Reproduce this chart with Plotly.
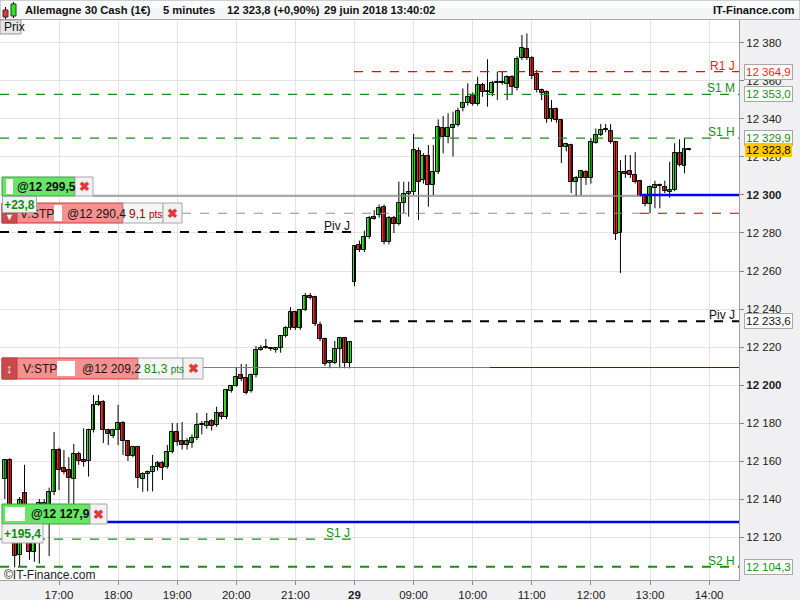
import plotly.graph_objects as go

# ---------------- data (5-minute candles, index 0 = 17:00 on 28/06, index 60 = 08:00 on 29/06) ----------------
first_candle = -11
opens = [12150.5, 12160.5, 12133, 12110.5, 12143, 12131, 12112, 12130, 12138, 12136.5, 12143.7,
         12165.8, 12156.3, 12155.3, 12150.5, 12163.7, 12160.5, 12160, 12176.3, 12189.5, 12191.1,
         12176.3, 12173.2, 12176.3, 12180, 12170.5, 12162.6, 12167.4, 12150.5, 12153.2, 12154.2,
         12156.8, 12158.9, 12156.8, 12164.7, 12175.3, 12170.5, 12168.4, 12169.5, 12172.1, 12178.9,
         12178.4, 12181.1, 12178.9, 12185.3, 12183.2, 12196.8, 12199.5, 12205.3, 12203.7, 12196.8,
         12205.3, 12218.4, 12219.5, 12219.5, 12218.4, 12219.5, 12225.8, 12230, 12238.4, 12230,
         12239.5, 12246.8, 12246.3, 12231.6, 12224.2, 12211.6, 12211.6, 12218.9, 12224.7, 12211.6,
         12254.2, 12273.7, 12271.1, 12277.9, 12288.2, 12289.5, 12293.7, 12275.3, 12287.9, 12284.7,
         12295.8, 12300.5, 12301.6, 12323.2, 12307.9, 12320.5, 12305.3, 12312.1, 12335.3, 12330.5,
         12335.3, 12336.8, 12345.6, 12348.4, 12352.6, 12347.9, 12357.9, 12354.2, 12353.7, 12358.9,
         12359.1, 12358.4, 12362.1, 12356.3, 12372.1, 12376.8, 12372.1, 12363.7, 12355.3, 12354.2,
         12340, 12345.3, 12339.5, 12325.3, 12326.3, 12306.8, 12308.9, 12312.1, 12308.9, 12327.4,
         12331.6, 12334.2, 12333.7, 12327.9, 12280, 12312.1, 12312.6, 12310.5, 12307.4, 12299.5,
         12295.3, 12303.7, 12304.7, 12304.2, 12301.6, 12302.6, 12322.1, 12315.3, 12323.8]
highs = [12161, 12161.5, 12135, 12141, 12158, 12133, 12132, 12140, 12140, 12146, 12175.3,
         12167, 12165.8, 12162, 12169, 12165, 12177.2, 12177, 12194.7, 12194.7, 12192,
         12177, 12177, 12189.5, 12181, 12171, 12168, 12168, 12154, 12155, 12163.2,
         12160, 12160, 12168.4, 12180, 12180, 12180.5, 12172, 12174, 12185.3, 12181,
         12185.3, 12182, 12188.6, 12186, 12198, 12200, 12209.5, 12211.1, 12211, 12206,
         12220.5, 12221, 12224.2, 12220, 12220, 12226, 12231, 12241, 12239, 12240,
         12248.4, 12248.4, 12247, 12233.3, 12225, 12213, 12223.2, 12225, 12225, 12223,
         12273.7, 12276, 12281.2, 12289, 12292, 12295, 12295, 12289, 12289, 12307,
         12307, 12307, 12332.1, 12325, 12322, 12326.3, 12326.3, 12339.8, 12341.6, 12343,
         12343.9, 12346, 12356.1, 12358.8, 12354, 12362.3, 12359, 12371.4, 12360, 12364.9,
         12364.9, 12363, 12363, 12373, 12384.2, 12385, 12373, 12365.8, 12356, 12355,
         12350, 12346, 12340, 12327.5, 12327, 12310, 12313, 12313, 12330, 12335,
         12337.4, 12337.4, 12337.4, 12328.5, 12318.4, 12321, 12321, 12322.6, 12308, 12300,
         12305, 12307.5, 12306, 12307.5, 12317.5, 12327.2, 12329.3, 12330, 12324.2]
lows = [12140, 12133, 12104, 12104.2, 12128, 12108, 12107, 12106, 12130, 12110, 12142,
        12144.7, 12153, 12137.7, 12137, 12158, 12157, 12151.8, 12175, 12189, 12169.5,
        12168.4, 12172, 12168.4, 12163.2, 12160, 12162, 12145.8, 12143.8, 12144, 12144,
        12155, 12150, 12156, 12164, 12168, 12166, 12166, 12167, 12171, 12174,
        12177, 12176, 12178, 12182, 12182, 12196, 12199, 12202, 12195, 12196,
        12204, 12218, 12219, 12218, 12217, 12217, 12225, 12229, 12229, 12229,
        12239, 12245, 12231, 12223, 12210, 12208.8, 12211, 12208.8, 12208.8, 12208.8,
        12252, 12270, 12270, 12277, 12287, 12288, 12274, 12274, 12280, 12284,
        12290.4, 12288.6, 12300, 12286.8, 12306, 12293.9, 12300, 12311, 12321.9, 12327.2,
        12320.2, 12336, 12344, 12347, 12347, 12347, 12351.7, 12346.5, 12352, 12350,
        12358, 12350, 12353.2, 12355, 12371, 12371, 12361, 12354, 12350, 12338,
        12338.6, 12338, 12316.8, 12323, 12301, 12299.1, 12300, 12305.3, 12306, 12327,
        12331, 12333, 12327, 12276.3, 12258.9, 12309, 12309, 12306, 12299, 12294,
        12290.4, 12293, 12293, 12301, 12298.6, 12302, 12315, 12311.4, 12323.4]
closes = [12160.5, 12135, 12110, 12139.5, 12131, 12112, 12130, 12138, 12136.5, 12143.7, 12165.8,
          12155.3, 12154.2, 12151.1, 12163.7, 12160, 12159.5, 12176.3, 12189.5, 12191.1, 12176.3,
          12174.2, 12176.3, 12180, 12170.5, 12162.6, 12167.4, 12151.1, 12153.2, 12154.2, 12156.8,
          12158.9, 12156.3, 12164.7, 12175.3, 12170, 12168.4, 12170.5, 12172.1, 12178.9, 12179.5,
          12180.5, 12178.4, 12185.3, 12183.2, 12197.4, 12199.5, 12204.2, 12203.2, 12195.8, 12205.3,
          12218.4, 12219.5, 12219.7, 12218.9, 12219.5, 12225.8, 12230, 12238.4, 12230, 12239.5,
          12246.8, 12245.8, 12232.1, 12224.2, 12211.1, 12212.6, 12218.9, 12224.7, 12211.6, 12222.6,
          12273.2, 12271.1, 12277.9, 12287.9, 12287.6, 12293.2, 12275.3, 12287.9, 12284.7, 12295.8,
          12300.5, 12301.6, 12323.7, 12306.8, 12320.5, 12305.3, 12312.1, 12335.8, 12330.5, 12335.3,
          12336.8, 12344.2, 12348.6, 12351.6, 12347.9, 12357.9, 12354.2, 12354.2, 12358.9, 12359.5,
          12359.1, 12362.1, 12356.8, 12371.6, 12377.4, 12372.1, 12362.6, 12355.3, 12353.7, 12340,
          12345.3, 12339.5, 12325.3, 12326.8, 12306.8, 12308.9, 12312.6, 12308.9, 12327.9, 12331.6,
          12334.2, 12334.2, 12327.9, 12279.5, 12312.1, 12311, 12310.5, 12306.8, 12299.5, 12295.3,
          12304.2, 12305.3, 12304.9, 12302.1, 12302.6, 12322.1, 12315.8, 12324.2, 12323.8]

time_tick_index = [0, 12, 24, 36, 48, 60, 72, 84, 96, 108, 120, 132]
time_tick_text = ["17:00", "18:00", "19:00", "20:00", "21:00", "<b>29</b>",
                  "09:00", "10:00", "11:00", "12:00", "13:00", "14:00"]
price_ticks = [12120, 12140, 12160, 12180, 12200, 12220, 12240, 12260, 12280, 12300,
               12320, 12340, 12360, 12380]
price_tick_text = ["12 120", "12 140", "12 160", "12 180", "<b>12 200</b>", "12 220", "12 240",
                   "12 260", "12 280", "<b>12 300</b>", "12 320", "12 340", "12 360", "12 380"]

# pivot levels (today, drawn across the day) and previous-day levels
level_names = ["R1 J", "S1 M", "S1 H", "Piv J", "S2 H"]
level_values = [12364.9, 12353.0, 12329.9, 12233.6, 12104.3]
level_labels = ["12 364,9", "12 353,0", "12 329,9", "12 233,6", "12 104,3"]
prev_names = ["Piv J", "S1 J"]
prev_values = [12280.5, 12118.9]
order_prices = [12299.5, 12290.4, 12209.2, 12127.9]
last_price = 12323.8
last_price_label = "12 323,8"

# ---------------- geometry helpers (pixel -> paper) ----------------
PL, PR, PT, PB = 0, 739, 20, 580
def px(x):
    return (x - PL) / (PR - PL)
def py(y):
    return (PB - y) / (PB - PT)

FONT = "Liberation Sans, Arial, sans-serif"
GREEN_TXT = "#138a13"

n = len(opens)
idx = list(range(first_candle, first_candle + n))

fig = go.Figure()

# wicks
wx, wy = [], []
for i, h, l in zip(idx, highs, lows):
    wx += [i, i, None]
    wy += [l, h, None]
fig.add_trace(go.Scatter(x=wx, y=wy, mode="lines", line=dict(color="black", width=1),
                         hoverinfo="skip", showlegend=False))

groups = {"up": ([], [], []), "down": ([], [], []), "flat": ([], [], [])}
for i, o, c in zip(idx, opens, closes):
    if abs(c - o) < 0.35:
        g = "flat"
    elif c > o:
        g = "up"
    else:
        g = "down"
    groups[g][0].append(i)
    groups[g][1].append(min(o, c))
    groups[g][2].append(max(abs(c - o), 0.6))
colors = {"up": "#2ee61e", "down": "#f02828", "flat": "black"}
for g, (xs, bs, hs) in groups.items():
    fig.add_trace(go.Bar(x=xs, y=hs, base=bs, width=0.8, marker=dict(color=colors[g],
                         line=dict(color="black", width=1)), hoverinfo="skip", showlegend=False))

shapes = []
ann = []

def hline(price, x0, x1, color, width=1, dash="solid"):
    shapes.append(dict(type="line", xref="paper", yref="y", x0=px(x0), x1=px(x1), y0=price, y1=price,
                       line=dict(color=color, width=width, dash=dash), layer="above"))

def rect(x0, y0, x1, y1, fill, line=None, lw=1):
    shapes.append(dict(type="rect", xref="paper", yref="paper", x0=px(x0), x1=px(x1), y0=py(y1), y1=py(y0),
                       fillcolor=fill, line=dict(color=line if line else fill, width=lw if line else 0),
                       layer="above"))

def text(x, y, s, size=12, color="#111", anchor="left", yanchor="middle", **kw):
    ann.append(dict(x=px(x), y=py(y), xref="paper", yref="paper", text=s, showarrow=False,
                    xanchor=anchor, yanchor=yanchor, font=dict(size=size, color=color, family=FONT), **kw))

# ---------------- horizontal levels ----------------
hline(level_values[0], 354, 739, "#ff0000", 1.2, "dash")
hline(level_values[1], 0, 739, "#139013", 1.2, "dash")
hline(level_values[2], 0, 739, "#139013", 1.2, "dash")
hline(order_prices[0], 93, 640, "#8c8c8c", 1.5)
hline(12300, 640, 739, "#0000ff", 2.5)
hline(order_prices[1], 182, 640, "#909090", 1.2, "dash")
hline(order_prices[1], 640, 739, "#c00000", 1.2, "dash")
hline(prev_values[0], 0, 354, "black", 2, "dash")
hline(level_values[3], 354, 739, "black", 2, "dash")
hline(order_prices[2], 203, 490, "#7a7a7a", 1)
hline(order_prices[2], 490, 739, "#7a0000", 1)
hline(order_prices[3], 107, 739, "#0000ee", 2.5)
hline(prev_values[1], 0, 354, "#139013", 1.2, "dash")
hline(level_values[4], 0, 739, "#139013", 2, "dash")

# level names
lvl_colors = ["#ff1a1a", "#139013", "#139013", "#111111", "#139013"]
for name, v, col in zip(level_names, level_values, lvl_colors):
    ann.append(dict(x=px(737), y=v, xref="paper", yref="y", text=name, showarrow=False, xanchor="right",
                    yanchor="bottom", yshift=-3, font=dict(size=12, color=col, family=FONT)))
for name, v, col in zip(prev_names, prev_values, ["#111111", "#139013"]):
    ann.append(dict(x=px(352), y=v, xref="paper", yref="y", text=name, showarrow=False, xanchor="right",
                    yanchor="bottom", yshift=-3, font=dict(size=12, color=col, family=FONT)))

# right-axis value boxes
box_colors = ["#ff1a1a", "#139013", "#139013", "#111111", "#139013"]
for lab, v, col in zip(level_labels, level_values, box_colors):
    ann.append(dict(x=px(744), y=v, xref="paper", yref="y", text=lab, showarrow=False, xanchor="left",
                    yanchor="middle", bgcolor="white", bordercolor="#a8a8a8", borderwidth=1, borderpad=1,
                    font=dict(size=11.5, color=col, family=FONT)))
ann.append(dict(x=px(745), y=last_price, xref="paper", yref="y", text=last_price_label, showarrow=False,
                xanchor="left", yanchor="middle", bgcolor="#ffc800", borderwidth=0, borderpad=1,
                font=dict(size=11.5, color="black", family=FONT)))

# ---------------- header ----------------
rect(0, 0, 800, 19.5, "#f3f5f7", "#a9a9a9", 1)
rect(1, 1, 799, 8, "#fbfcfd")
# small candle icon
shapes.append(dict(type="line", xref="paper", yref="paper", x0=px(5.5), x1=px(5.5), y0=py(19), y1=py(7),
                   line=dict(color="black", width=1), layer="above"))
shapes.append(dict(type="line", xref="paper", yref="paper", x0=px(13.5), x1=px(13.5), y0=py(18), y1=py(2),
                   line=dict(color="black", width=1), layer="above"))
rect(3, 10, 8, 17, "#f03030", "#333", 1)
rect(11, 4, 16, 16, "#2ee61e", "#333", 1)
HS = 11.2
text(23, 10.5, "<b>Allemagne 30 Cash (1€)</b>", HS)
text(161, 10.5, "<b>5 minutes</b>", HS)
text(225, 10.5, "<b>12 323,8 (+0,90%)</b>", HS)
text(322, 10.5, "<b>29 juin 2018 13:40:02</b>", HS)
text(796, 10.5, "<b>IT-Finance.com</b>", HS, anchor="right")

# "Prix" tab
rect(0, 20, 21, 34, "#e6e6e6", "#9a9a9a", 1)
text(1.5, 27.5, "Prix", 12)

# ---------------- order labels ----------------
# buy @12 299,5
rect(2, 177, 75, 196, "#68e468", "#3a9e3a", 1)
rect(6, 179, 13, 194, "white")
text(15, 186.5, "<b>@12 299,5</b>", 12)
rect(75, 177, 93, 196, "#f2f2f2", "#a8a8a8", 1)
text(84, 186.5, "<b>✖</b>", 13, color="#e03a3a", anchor="center")
# stop @12 290,4
rect(2, 203, 123, 223, "#f39090", "#c83a3a", 1)
rect(2, 203, 17, 223, "#c84a4a", "#c83a3a", 1)
text(9.5, 217, "▼", 9, color="white", anchor="center")
rect(54, 205, 62, 221, "white")
text(18, 213.5, "V:STP", 12, color="#331111")
text(65, 213.5, "@12 290,4", 12, color="#221111")
rect(123, 203, 163, 223, "#f6f6f6", "#a8a8a8", 1)
text(127, 213.5, "9,1 <span style='font-size:10px'>pts</span>", 12, color="#a00000")
rect(163, 203, 182, 223, "#f2f2f2", "#a8a8a8", 1)
text(172.5, 213.5, "<b>✖</b>", 13, color="#e03a3a", anchor="center")
# +23,8 box (covers the stop tab)
ann.append(dict(x=px(2), y=py(196), xref="paper", yref="paper", xanchor="left", yanchor="top",
                text="<b>+23,8</b>", showarrow=False, width=33, height=15, bgcolor="#f2f2f2",
                bordercolor="#a8a8a8", borderwidth=1, borderpad=0, align="center",
                font=dict(size=12, color=GREEN_TXT, family=FONT)))
# stop @12 209,2
rect(2, 358, 138, 379, "#f39090", "#c83a3a", 1)
rect(2, 358, 17, 379, "#c84a4a", "#c83a3a", 1)
text(9.5, 368.5, "<b>↕</b>", 13, color="white", anchor="center")
rect(57, 361, 75, 376, "white")
text(21, 368.5, "V:STP", 12, color="#331111")
text(80, 368.5, "@12 209,2", 12, color="#221111")
rect(138, 358, 183, 379, "#f6f6f6", "#a8a8a8", 1)
text(142, 368.5, "81,3 <span style='font-size:10px'>pts</span>", 12, color=GREEN_TXT)
rect(183, 358, 203, 379, "#f2f2f2", "#a8a8a8", 1)
text(193, 368.5, "<b>✖</b>", 13, color="#e03a3a", anchor="center")
# buy @12 127,9
rect(2, 504, 90, 524, "#68e468", "#3a9e3a", 1)
rect(5, 507, 25, 521, "white")
text(29, 514, "<b>@12 127,9</b>", 12)
rect(90, 504, 107, 524, "#f2f2f2", "#a8a8a8", 1)
text(98.5, 514, "<b>✖</b>", 13, color="#e03a3a", anchor="center")
rect(2, 524, 43, 543, "#f2f2f2", "#a8a8a8", 1)
text(22.5, 533.5, "<b>+195,4</b>", 12, color=GREEN_TXT, anchor="center")

# copyright
text(2, 574.5, "©IT-Finance.com", 12, color="#222")

fig.update_layout(
    width=800, height=600, margin=dict(l=PL, r=800 - PR, t=PT, b=600 - PB),
    paper_bgcolor="#f0f0f2", plot_bgcolor="white", barmode="overlay", bargap=0,
    font=dict(family=FONT, size=12, color="#222"),
    shapes=shapes, annotations=ann, showlegend=False,
    xaxis=dict(range=[-11.98, 138.07], tickvals=time_tick_index, ticktext=time_tick_text,
               showgrid=True, gridcolor="#e3e3e3", gridwidth=1, zeroline=False,
               ticks="outside", ticklen=4, tickcolor="#8a8a8a", showline=True, linecolor="#a0a0a0",
               tickfont=dict(size=11.5, color="#222", family=FONT), rangeslider=dict(visible=False),
               fixedrange=True),
    yaxis=dict(range=[12097.37, 12392.1], side="right", tickvals=price_ticks, ticktext=price_tick_text,
               showgrid=True, gridcolor="#e3e3e3", gridwidth=1, zeroline=False,
               ticks="outside", ticklen=4, tickcolor="#8a8a8a", showline=True, linecolor="#a0a0a0",
               tickfont=dict(size=11.5, color="#222", family=FONT), fixedrange=True),
)

fig.write_html("out.html", config={"displayModeBar": False},
               post_script="document.body.style.margin='0px';document.body.style.padding='0px';"
                           "document.body.style.overflow='hidden';")
